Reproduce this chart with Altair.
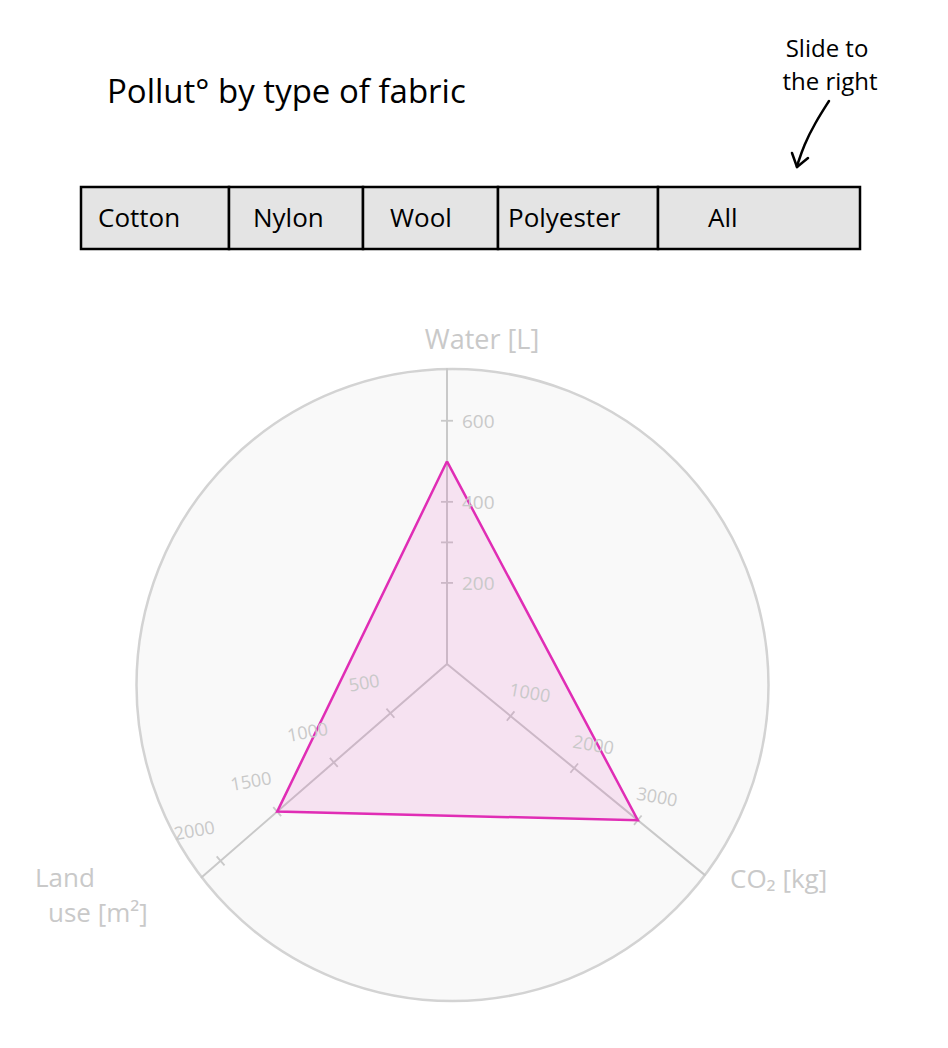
import math
import altair as alt
import pandas as pd

# ---------------- data ----------------
title_text = "Pollut° by type of fabric"
note_lines = ["Slide to", "the right"]
tabs = ["Cotton", "Nylon", "Wool", "Polyester", "All"]

axis_keys = ["water", "co2", "land"]
axis_titles = ["Water [L]", "CO₂ [kg]", "Land use [m²]"]
all_values = [500, 3000, 1500]          # "All" fabrics: water, CO2, land use
axis_max = [740, 3650, 2000]            # value reached at the rim of each spoke

water_ticks = [200, 300, 400, 600]
water_tick_labels = ["200", "", "400", "600"]
co2_ticks = [1000, 2000, 3000]
land_ticks = [500, 1000, 1500, 2000]

# ---------------- layout (page pixels) ----------------
W, H = 930, 1024
CX, CY = 447, 664                 # spoke centre
OX, OY, R = 452.5, 685, 316       # background disc
L = 300                           # spoke length for value == axis max
ANG = {"water": 90.0, "co2": 320.7, "land": 221.0}
MAXV = dict(zip(axis_keys, axis_max))

tab_edges = [81, 229, 363, 498, 658, 860]
tab_text_x = [98, 253, 390, 508, 708]
TAB_Y0, TAB_Y1 = 187, 249

GRAY = "#c9c9c9"
PINK = "#e02db5"
FONT = "Open Sans"


def unit(key):
    a = math.radians(ANG[key])
    return math.cos(a), -math.sin(a)


def pos(key, value):
    ux, uy = unit(key)
    r = value / MAXV[key] * L
    return CX + r * ux, CY + r * uy


def rim_length(key):
    ux, uy = unit(key)
    dx, dy = CX - OX, CY - OY
    b = ux * dx + uy * dy
    return -b + math.sqrt(b * b - (dx * dx + dy * dy) + R * R)


X = alt.X("x:Q", scale=alt.Scale(domain=[8, 8 + W], nice=False, zero=False), axis=None)
Y = alt.Y("y:Q", scale=alt.Scale(domain=[8, 8 + H], nice=False, zero=False, reverse=True), axis=None)

# background disc
disc_df = pd.DataFrame({"x": [OX], "y": [OY]})
disc = alt.Chart(disc_df).mark_point(
    shape="circle", size=(2 * R) ** 2, filled=True, fill="#f9f9f9",
    stroke="#d3d3d3", strokeWidth=2.5, opacity=1, fillOpacity=1, strokeOpacity=1,
).encode(x=X, y=Y)

# spokes
spoke_rows = []
for k in axis_keys:
    ux, uy = unit(k)
    t = rim_length(k)
    spoke_rows.append({"x": CX, "y": CY, "x2": CX + t * ux, "y2": CY + t * uy})
spokes = alt.Chart(pd.DataFrame(spoke_rows)).mark_rule(
    color=GRAY, strokeWidth=2, strokeCap="round"
).encode(x=X, y=Y, x2="x2:Q", y2="y2:Q")

# ticks
tick_rows = []
for k, ticks in [("water", water_ticks), ("co2", co2_ticks), ("land", land_ticks)]:
    ux, uy = unit(k)
    px, py = -uy, ux
    for v in ticks:
        x0, y0 = pos(k, v)
        tick_rows.append({"x": x0 - 6 * px, "y": y0 - 6 * py,
                          "x2": x0 + 6 * px, "y2": y0 + 6 * py})
ticks_layer = alt.Chart(pd.DataFrame(tick_rows)).mark_rule(
    color=GRAY, strokeWidth=1.8
).encode(x=X, y=Y, x2="x2:Q", y2="y2:Q")

# polygon ("All")
poly_rows = []
for i, (k, v) in enumerate(zip(axis_keys + [axis_keys[0]], all_values + [all_values[0]])):
    x0, y0 = pos(k, v)
    poly_rows.append({"x": x0, "y": y0, "i": i})
polygon = alt.Chart(pd.DataFrame(poly_rows)).mark_line(
    fill=PINK, fillOpacity=0.11, stroke=PINK, strokeWidth=2.5, strokeJoin="miter"
).encode(x=X, y=Y, order="i:Q")

# tick labels
wl = []
for v, lab in zip(water_ticks, water_tick_labels):
    if lab:
        x0, y0 = pos("water", v)
        wl.append({"x": x0 + 15, "y": y0 + 1, "t": lab})
water_labels = alt.Chart(pd.DataFrame(wl)).mark_text(
    align="left", baseline="middle", font=FONT, fontSize=19, color=GRAY
).encode(x=X, y=Y, text="t:N")

cl = []
ux, uy = unit("co2")
for v in co2_ticks:
    x0, y0 = pos("co2", v)
    cl.append({"x": x0 + 19, "y": y0 - 22, "t": str(v)})
co2_labels = alt.Chart(pd.DataFrame(cl)).mark_text(
    align="center", baseline="middle", font=FONT, fontSize=18, color=GRAY, angle=10
).encode(x=X, y=Y, text="t:N")

ll = []
for v in land_ticks:
    x0, y0 = pos("land", v)
    ll.append({"x": x0 - 26, "y": y0 - 29, "t": str(v)})
land_labels = alt.Chart(pd.DataFrame(ll)).mark_text(
    align="center", baseline="middle", font=FONT, fontSize=18, color=GRAY, angle=350
).encode(x=X, y=Y, text="t:N")

# axis titles
land_words = axis_titles[2].split(" ")
title_df = pd.DataFrame({
    "x": [482, 730, 35, 48],
    "y": [341, 880, 879, 914],
    "t": [axis_titles[0], axis_titles[1], land_words[0], " ".join(land_words[1:])],
    "a": ["center", "left", "left", "left"],
})
axis_title_c = alt.Chart(title_df[title_df.a == "center"]).mark_text(
    align="center", baseline="middle", font=FONT, fontSize=27, color=GRAY
).encode(x=X, y=Y, text="t:N")
axis_title_l = alt.Chart(title_df[title_df.a == "left"]).mark_text(
    align="left", baseline="middle", font=FONT, fontSize=26, color=GRAY
).encode(x=X, y=Y, text="t:N")

# tab bar
tab_df = pd.DataFrame({
    "x": tab_edges[:-1], "x2": tab_edges[1:],
    "y": [TAB_Y0] * len(tabs), "y2": [TAB_Y1] * len(tabs),
    "tx": tab_text_x, "ty": [219] * len(tabs), "t": tabs,
})
tab_rects = alt.Chart(tab_df).mark_rect(
    fill="#e4e4e4", stroke="black", strokeWidth=2.5
).encode(x=X, y=Y, x2="x2:Q", y2="y2:Q")
tab_text = alt.Chart(tab_df).mark_text(
    align="left", baseline="middle", font=FONT, fontSize=26, color="black"
).encode(x=alt.X("tx:Q", scale=alt.Scale(domain=[8, 8 + W], nice=False, zero=False), axis=None),
         y=alt.Y("ty:Q", scale=alt.Scale(domain=[8, 8 + H], nice=False, zero=False, reverse=True), axis=None),
         text="t:N")

# heading + note
head_df = pd.DataFrame({"x": [107], "y": [93], "t": [title_text]})
heading = alt.Chart(head_df).mark_text(
    align="left", baseline="middle", font=FONT, fontSize=33, color="black"
).encode(x=X, y=Y, text="t:N")

note_df = pd.DataFrame({"x": [827, 830], "y": [50, 83], "t": note_lines})
note = alt.Chart(note_df).mark_text(
    align="center", baseline="middle", font=FONT, fontSize=24, color="black"
).encode(x=X, y=Y, text="t:N")

arrow_df = pd.DataFrame({
    "x": [829, 815, 804, 797], "y": [101, 123, 145, 166], "i": [0, 1, 2, 3]})
arrow = alt.Chart(arrow_df).mark_line(
    color="black", strokeWidth=2.5, interpolate="basis", strokeCap="round"
).encode(x=X, y=Y, order="i:Q")
head_rows = pd.DataFrame({"x": [797, 797], "y": [167, 167], "x2": [792, 808], "y2": [153, 158]})
arrow_head = alt.Chart(head_rows).mark_rule(
    color="black", strokeWidth=2.5, strokeCap="round"
).encode(x=X, y=Y, x2="x2:Q", y2="y2:Q")

chart = alt.layer(
    disc, spokes, ticks_layer, polygon,
    water_labels, co2_labels, land_labels, axis_title_c, axis_title_l,
    tab_rects, tab_text, heading, note, arrow, arrow_head,
).properties(
    width=W, height=H, padding=0,
    autosize=alt.AutoSizeParams(type="none"),
).configure_view(strokeWidth=0)

chart.save("out.html", embed_options={"renderer": "svg", "actions": False})
